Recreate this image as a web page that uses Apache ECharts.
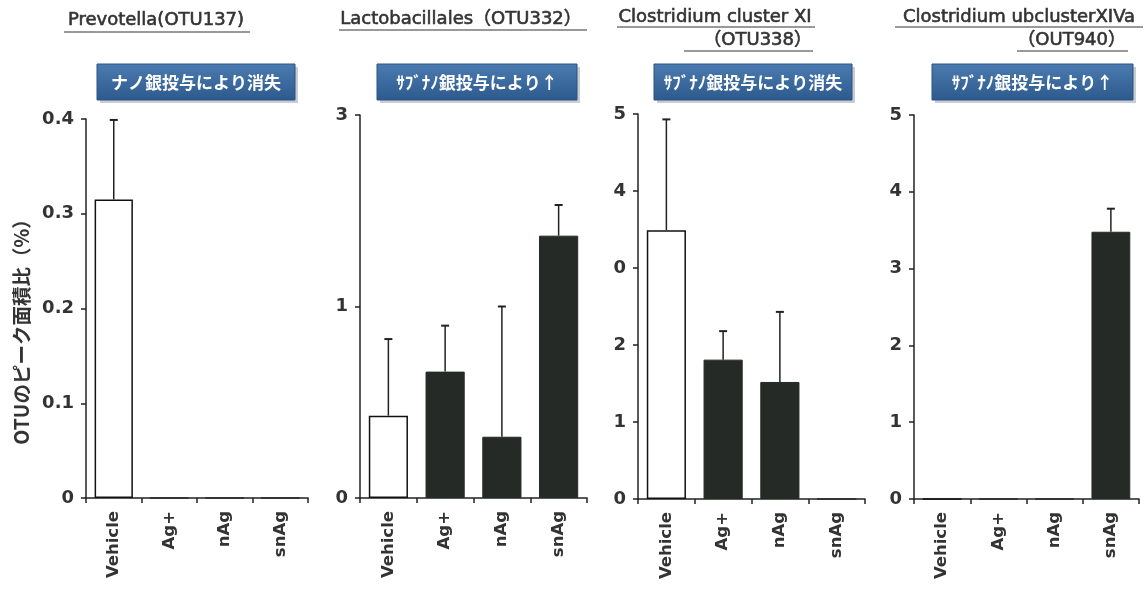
<!DOCTYPE html>
<html><head><meta charset="utf-8">
<script src="https://cdn.jsdelivr.net/npm/echarts@6/dist/echarts.min.js"></script>
<style>html,body{margin:0;padding:0;background:#fff}#c{width:1146px;height:589px}</style>
</head><body><div id="c"></div>
<script>
// ---- data ----
const categories = ['Vehicle', 'Ag+', 'nAg', 'snAg'];

const prevotellaMean  = [0.315, 0, 0, 0];
const prevotellaUpper = [0.399, 0, 0, 0];

const lactoMean  = [0.43, 0.66, 0.32, 1.37];
const lactoUpper = [0.83, 0.90, 1.00, 1.53];

const clostXIMean  = [3.49, 1.81, 1.52, 0];
const clostXIUpper = [4.93, 2.18, 2.43, 0];

const clostXIVaMean  = [0, 0, 0, 3.48];
const clostXIVaUpper = [0, 0, 0, 3.78];

const ticks1 = ['0', '0.1', '0.2', '0.3', '0.4'];
const ticks2 = ['0', '1', '3'];
const ticks3 = ['0', '1', '2', '0', '4', '5'];
const ticks4 = ['0', '1', '2', '3', '4', '5'];

const titleLines = [
  ['Prevotella(OTU137)'],
  ['Lactobacillales（OTU332）'],
  ['Clostridium cluster XI', '（OTU338）'],
  ['Clostridium ubclusterXIVa', '（OUT940）']
];
const notes = ['ナノ銀投与により消失', 'ｻﾌﾞﾅﾉ銀投与により↑', 'ｻﾌﾞﾅﾉ銀投与により消失', 'ｻﾌﾞﾅﾉ銀投与により↑'];
const yName = 'OTUのピーク面積比（%）';

// ---- layout ----
const panels = [
  {mean: prevotellaMean, upper: prevotellaUpper, ticks: ticks1, max: 0.4, interval: 0.1,
   grid: {left: 86, top: 119, width: 222, height: 379}},
  {mean: lactoMean, upper: lactoUpper, ticks: ticks2, max: 2, interval: 1,
   grid: {left: 360, top: 115, width: 227, height: 383}},
  {mean: clostXIMean, upper: clostXIUpper, ticks: ticks3, max: 5, interval: 1,
   grid: {left: 638, top: 114, width: 227, height: 385}},
  {mean: clostXIVaMean, upper: clostXIVaUpper, ticks: ticks4, max: 5, interval: 1,
   grid: {left: 914, top: 115, width: 225, height: 384}}
];
const titleLayout = [
  [{x: 156, y: 20, align: 'center', ul: [64, 250, 32]}],
  [{x: 461, y: 19, align: 'center', ul: [339, 587, 30]}],
  [{x: 715, y: 17, align: 'center', ul: [617, 815, 27]}, {x: 812, y: 40, align: 'right', ul: [684, 813, 51]}],
  [{x: 1019, y: 17, align: 'center', ul: [895, 1143, 27]}, {x: 1126, y: 40, align: 'right', ul: [1017, 1128, 51]}]
];
const boxLayout = [[97, 64, 198, 36], [377, 64, 200, 36], [654, 64, 198, 36], [932, 64, 201, 36]];

const latin = "'DejaVu Sans', 'Noto Sans CJK JP', sans-serif";
const cjk = "'Noto Sans CJK JP', 'DejaVu Sans', sans-serif";
const axisColor = '#222';
const darkBar = '#262a26';

const grids = [], xAxes = [], yAxes = [], series = [], graphics = [];
panels.forEach((p, k) => {
  grids.push(Object.assign({containLabel: false}, p.grid));
  xAxes.push({
    type: 'category', gridIndex: k, data: categories,
    axisLine: {lineStyle: {color: axisColor, width: 1.5}},
    axisTick: {show: true, length: 5, lineStyle: {color: axisColor, width: 1.5}},
    axisLabel: {rotate: 90, margin: 13, color: '#333', fontWeight: 'bold', fontSize: 16.5, fontFamily: latin}
  });
  yAxes.push({
    type: 'value', gridIndex: k, min: 0, max: p.max, interval: p.interval,
    splitLine: {show: false},
    axisLine: {show: true, lineStyle: {color: axisColor, width: 1.5}},
    axisTick: {show: true, length: 5, lineStyle: {color: axisColor, width: 1.5}},
    axisLabel: {margin: 12, color: '#333', fontWeight: 'bold', fontSize: 18, fontFamily: latin,
      formatter: (v) => p.ticks[Math.round(v / p.interval)] ?? ''}
  });
  series.push({
    type: 'bar', xAxisIndex: k, yAxisIndex: k, barWidth: '69%', animation: false,
    data: p.mean.map((v, i) => ({
      value: v,
      itemStyle: i === 0 ? {color: '#fff', borderColor: '#111', borderWidth: 1.5}
                         : {color: darkBar, borderColor: darkBar, borderWidth: 1}
    }))
  });
  series.push({
    type: 'custom', xAxisIndex: k, yAxisIndex: k, z: 5, animation: false,
    data: p.mean.map((v, i) => [i, v, p.upper[i]]),
    renderItem(params, api) {
      const m = api.value(1), u = api.value(2);
      if (!(u > m)) return null;
      const p0 = api.coord([api.value(0), m]);
      const p1 = api.coord([api.value(0), u]);
      return {type: 'group', children: [
        {type: 'line', shape: {x1: p0[0], y1: p0[1], x2: p1[0], y2: p1[1]}, style: {stroke: '#222', lineWidth: 1.5}},
        {type: 'line', shape: {x1: p1[0] - 4, y1: p1[1], x2: p1[0] + 4, y2: p1[1]}, style: {stroke: '#222', lineWidth: 2}}
      ]};
    }
  });

  // titles with underline
  titleLines[k].forEach((t, j) => {
    const L = titleLayout[k][j];
    graphics.push({type: 'text', x: L.x, y: L.y, style: {
      text: t, fill: '#333', stroke: '#333', lineWidth: 0.6, font: `18px ${latin}`,
      textAlign: L.align, textVerticalAlign: 'middle'}});
    graphics.push({type: 'line', shape: {x1: L.ul[0], y1: L.ul[2], x2: L.ul[1], y2: L.ul[2]},
      style: {stroke: '#777', lineWidth: 1.5}});
  });
  // blue note boxes
  const b = boxLayout[k];
  graphics.push({type: 'rect', shape: {x: b[0] + 3, y: b[1] + 3, width: b[2], height: b[3]},
    style: {fill: '#c9ccd2'}});
  graphics.push({type: 'rect', shape: {x: b[0], y: b[1], width: b[2], height: b[3]},
    style: {fill: new echarts.graphic.LinearGradient(0, 0, 0, 1, [
      {offset: 0, color: '#4b7bb0'}, {offset: 1, color: '#2d5a8d'}]), stroke: '#2a5284', lineWidth: 1}});
  graphics.push({type: 'text', x: b[0] + b[2] / 2, y: b[1] + b[3] / 2 + 1, style: {
    text: notes[k], fill: '#fff', font: `bold 17px ${cjk}`, textAlign: 'center', textVerticalAlign: 'middle'}});
});

graphics.push({type: 'text', x: 22, y: 327, rotation: Math.PI / 2, style: {
  text: yName, fill: '#333', font: `bold 19.5px ${cjk}`, textAlign: 'center', textVerticalAlign: 'middle'}});

const chart = echarts.init(document.getElementById('c'), null, {renderer: 'canvas'});
chart.setOption({
  backgroundColor: '#fff',
  animation: false,
  grid: grids, xAxis: xAxes, yAxis: yAxes, series: series, graphic: graphics
});
</script></body></html>
